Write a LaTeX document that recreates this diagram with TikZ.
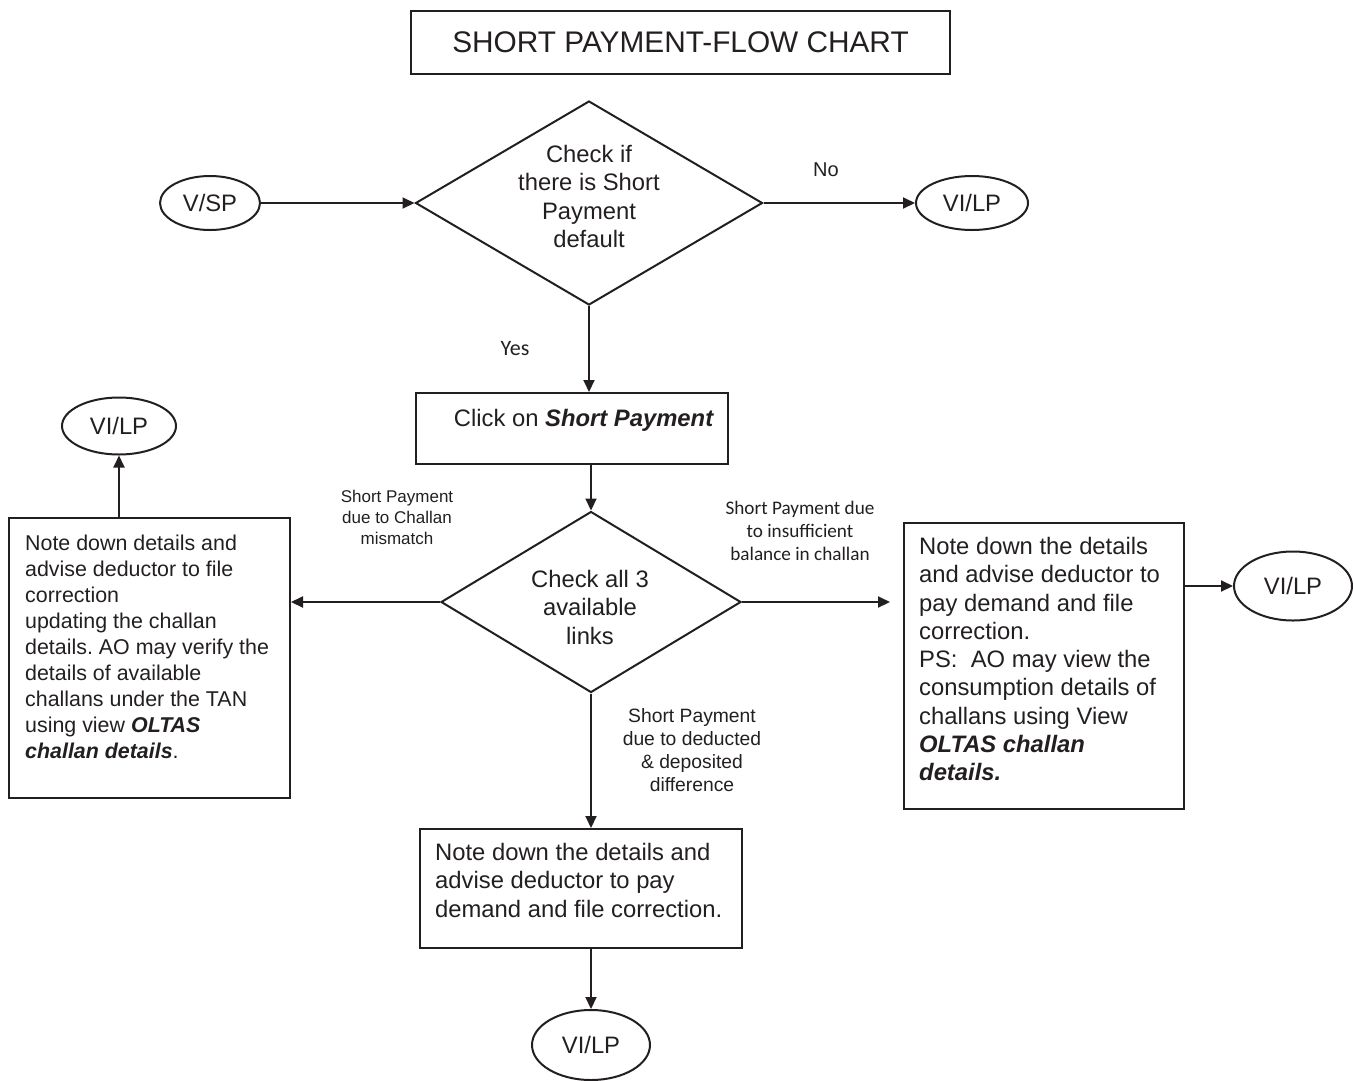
\documentclass[tikz,border=0pt]{standalone}
\usepackage{fontspec}
\setmainfont{Liberation Sans}
\newfontfamily\calibri{Carlito}
\usetikzlibrary{shapes.geometric,arrows.meta}
\definecolor{ink}{HTML}{231F20}
\frenchspacing
\begin{document}
\begin{tikzpicture}[x=1pt,y=-1pt,
  every node/.style={text=ink},
  box/.style={draw=ink,line width=2pt,rectangle,anchor=north west,inner sep=0pt},
  decision/.style={draw=ink,line width=2pt,diamond,inner sep=0pt},
  terminal/.style={draw=ink,line width=2pt,ellipse,inner sep=0pt,font=\fontsize{23.8}{28}\selectfont},
  bigtxt/.style={inner sep=0pt,font=\fontsize{23.8}{28.3}\selectfont},
  smalltxt/.style={inner sep=0pt,font=\fontsize{21.4}{26}\selectfont},
  flow/.style={draw=ink,line width=2pt,-{Triangle[length=12pt,width=11pt]}}
]
\useasboundingbox (0,0) rectangle (1353,1080);

% title
\node[box,minimum width=539,minimum height=63,font=\fontsize{29.8}{34}\selectfont] (title) at (410,10) {SHORT PAYMENT-FLOW CHART};

% first decision
\node[terminal,minimum width=100,minimum height=54] (vsp) at (210,203) {V/SP};
\node[decision,minimum width=347,minimum height=204] (d1) at (589,203) {};
\node[bigtxt,align=center,anchor=north] (d1txt) at (589,145) {Check if\\there is Short\\Payment\\default};
\node[terminal,minimum width=112,minimum height=54] (vi1) at (972,203) {VI/LP};
\node[inner sep=0pt,font=\fontsize{20}{24}\selectfont] (no) at (826,170) {No};
\node[inner sep=0pt,font=\calibri\fontsize{22}{26}\selectfont] (yes) at (515,349) {Yes};

% short payment step
\node[box,minimum width=312,minimum height=71] (click) at (415,392) {};
\node[bigtxt,anchor=north] (clicktxt) at (584,409) {Click on \textbf{\textit{Short Payment}}};

% second decision
\node[decision,minimum width=300,minimum height=181] (d2) at (591,602) {};
\node[bigtxt,align=center,anchor=north] (d2txt) at (590,570) {Check all 3\\available\\links};

% left branch
\node[box,minimum width=281,minimum height=280] (lbox) at (8,517) {};
\node[smalltxt,align=left,anchor=north west] (lboxtxt) at (25,535) {Note down details and\\advise deductor to file\\correction\\updating the challan\\details. AO may verify the\\details of available\\challans under the TAN\\using view \textbf{\textit{OLTAS}}\\\textbf{\textit{challan details}}.};
\node[terminal,minimum width=114,minimum height=57] (vi2) at (119,426) {VI/LP};
\node[inner sep=0pt,align=center,anchor=north,font=\fontsize{17}{21}\selectfont] (lbl) at (397,490) {Short Payment\\due to Challan\\mismatch};

% right branch
\node[box,minimum width=280,minimum height=286] (rbox) at (903,522) {};
\node[bigtxt,align=left,anchor=north west] (rboxtxt) at (919,537) {Note down the details\\and advise deductor to\\pay demand and file\\correction.\\PS:\ \ AO may view the\\consumption details of\\challans using View\\\textbf{\textit{OLTAS challan}}\\\textbf{\textit{details.}}};
\node[terminal,minimum width=118,minimum height=69] (vi3) at (1293,586) {VI/LP};
\node[inner sep=0pt,align=center,anchor=north,font=\calibri\fontsize{19.2}{23}\selectfont] (rlbl) at (800,501) {Short Payment due\\to insufficient\\balance in challan};

% bottom branch
\node[box,minimum width=322,minimum height=119] (bbox) at (419,828) {};
\node[bigtxt,align=left,anchor=north west] (bboxtxt) at (435,843) {Note down the details and\\advise deductor to pay\\demand and file correction.};
\node[terminal,minimum width=118,minimum height=70] (vi4) at (591,1045) {VI/LP};
\node[inner sep=0pt,align=center,anchor=north,font=\fontsize{19.3}{23}\selectfont] (blbl) at (692,708) {Short Payment\\due to deducted\\\& deposited\\difference};

% connectors
\draw[flow] (vsp.east) -- (d1.west);
\draw[flow] (d1.east) -- (vi1.west);
\draw[flow] (d1.south) -- (d1.south |- click.north);
\draw[flow] (d2.north |- click.south) -- (d2.north);
\draw[flow] (d2.west) -- (d2.west -| lbox.east);
\draw[flow] (vi2.south |- lbox.north) -- (vi2.south);
\draw[flow,shorten >=13pt] (d2.east) -- (d2.east -| rbox.west);
\draw[flow] (rbox.east |- vi3.west) -- (vi3.west);
\draw[flow] (d2.south) -- (d2.south |- bbox.north);
\draw[flow] (vi4.north |- bbox.south) -- (vi4.north);
\end{tikzpicture}
\end{document}
